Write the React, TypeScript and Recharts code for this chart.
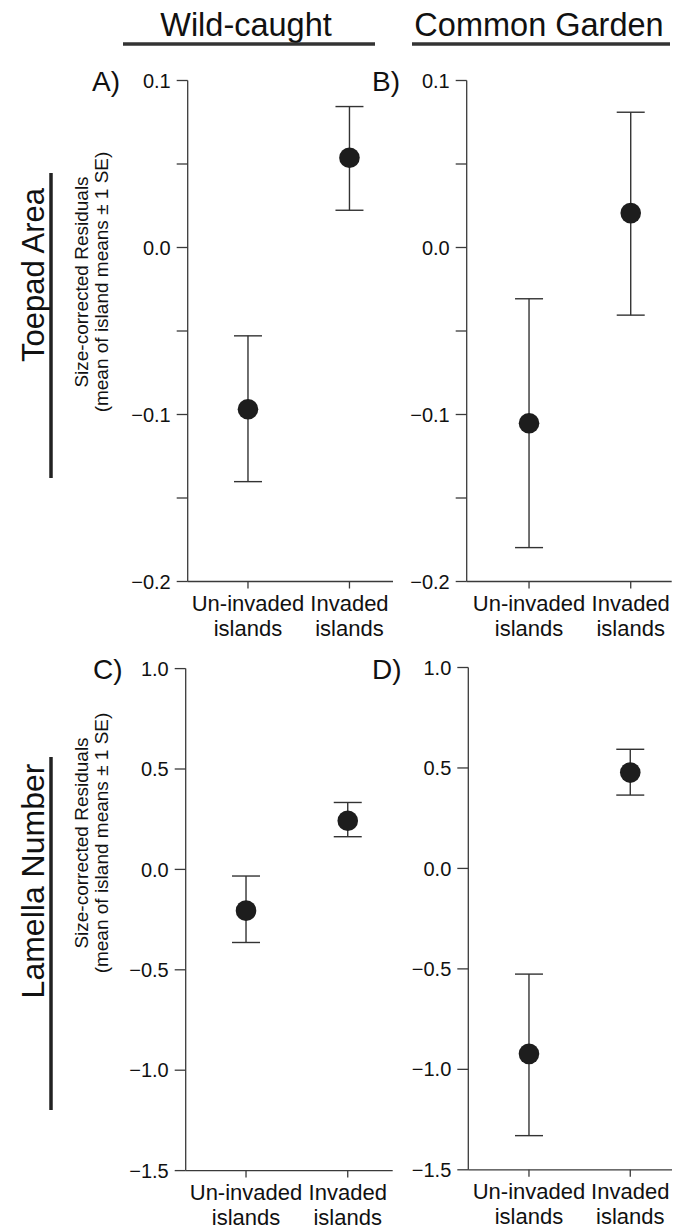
import React from "react";
import { ScatterChart, Scatter, XAxis, YAxis, ErrorBar } from "recharts";

// ---- data ----
const catPositions = [1, 2];
const catLine1 = ["Un-invaded", "Invaded"];
const catLine2 = ["islands", "islands"];

const toepadWildMean = [-0.0969, 0.0537];
const toepadWildLow = [-0.1402, 0.0223];
const toepadWildHigh = [-0.0529, 0.0844];

const toepadGardenMean = [-0.1052, 0.0206];
const toepadGardenLow = [-0.1797, -0.0405];
const toepadGardenHigh = [-0.0307, 0.081];

const lamellaWildMean = [-0.2054, 0.2422];
const lamellaWildLow = [-0.364, 0.1628];
const lamellaWildHigh = [-0.033, 0.3333];

const lamellaGardenMean = [-0.923, 0.477];
const lamellaGardenLow = [-1.33, 0.365];
const lamellaGardenHigh = [-0.526, 0.593];

const toepadTicks = [-0.2, -0.15, -0.1, -0.05, 0, 0.05, 0.1];
const lamellaTicks = [-1.5, -1.0, -0.5, 0, 0.5, 1.0];

const columnTitles = ["Wild-caught", "Common Garden"];
const rowTitles = ["Toepad Area", "Lamella Number"];
const yLabelLine1 = "Size-corrected Residuals";
const yLabelLine2 = "(mean of island means \u00B1 1 SE)";
const panelLetters = ["A)", "B)", "C)", "D)"];

const FONT = "'Liberation Sans', Arial, Helvetica, sans-serif";

function buildRows(mean: number[], low: number[], high: number[]) {
  return catPositions.map((x, i) => ({
    x,
    y: mean[i],
    err: [mean[i] - low[i], high[i] - mean[i]],
  }));
}

function fmtTick(step: number) {
  return (v: number) => {
    const k = v / step;
    if (Math.abs(k - Math.round(k)) > 1e-6) return "";
    const s = Math.abs(v).toFixed(1);
    return v < -1e-9 ? "\u2212" + s : s;
  };
}

const CatTick = (props: any) => {
  const { x, y, payload } = props;
  const i = catPositions.indexOf(payload.value);
  return (
    <g>
      <text x={x} y={y + 20.5} textAnchor="middle" fontSize={22} fontFamily={FONT} fill="#111">
        {catLine1[i]}
      </text>
      <text x={x} y={y + 45.5} textAnchor="middle" fontSize={22} fontFamily={FONT} fill="#111">
        {catLine2[i]}
      </text>
    </g>
  );
};

const Dot = (props: any) => <circle cx={props.cx} cy={props.cy} r={10.3} fill="#1d1d1d" />;

type PanelProps = {
  left: number;
  top: number;
  width: number;
  height: number;
  mTop: number;
  mRight: number;
  yWidth: number;
  xHeight: number;
  xDomain: [number, number];
  yDomain: [number, number];
  ticks: number[];
  labelStep: number;
  rows: any[];
};

function Panel(p: PanelProps) {
  return (
    <div style={{ position: "absolute", left: p.left, top: p.top }}>
      <ScatterChart
        width={p.width}
        height={p.height}
        margin={{ top: p.mTop, right: p.mRight, left: 0, bottom: 0 }}
      >
        <XAxis
          type="number"
          dataKey="x"
          domain={p.xDomain}
          ticks={catPositions}
          interval={0}
          height={p.xHeight}
          tickSize={7}
          tickMargin={2}
          stroke="#3a3a3a"
          strokeWidth={1.3}
          tick={<CatTick />}
          allowDataOverflow
        />
        <YAxis
          type="number"
          dataKey="y"
          domain={p.yDomain}
          ticks={p.ticks}
          interval={0}
          width={p.yWidth}
          tickSize={11}
          tickMargin={6}
          stroke="#3a3a3a"
          strokeWidth={1.3}
          tickFormatter={fmtTick(p.labelStep)}
          tick={{ fontSize: 20, fontFamily: FONT, fill: "#111" }}
          allowDataOverflow
        />
        <Scatter data={p.rows} shape={<Dot />} isAnimationActive={false}>
          <ErrorBar
            dataKey="err"
            direction="y"
            width={14}
            stroke="#333"
            strokeWidth={1.4}
            isAnimationActive={false}
          />
        </Scatter>
      </ScatterChart>
    </div>
  );
}

export default function App() {
  return (
    <div
      style={{
        position: "absolute",
        left: 0,
        top: 0,
        width: 673,
        height: 1230,
        background: "#fff",
        overflow: "hidden",
      }}
    >
      <Panel
        left={0}
        top={0}
        width={400}
        height={640}
        mTop={80.5}
        mRight={7}
        yWidth={187.7}
        xHeight={58.5}
        xDomain={[0.406, 2.429]}
        yDomain={[-0.2, 0.1]}
        ticks={toepadTicks}
        labelStep={0.1}
        rows={buildRows(toepadWildMean, toepadWildLow, toepadWildHigh)}
      />
      <Panel
        left={400}
        top={0}
        width={273}
        height={640}
        mTop={80.5}
        mRight={1.3}
        yWidth={66.7}
        xHeight={58.5}
        xDomain={[0.387, 2.403]}
        yDomain={[-0.2, 0.1]}
        ticks={toepadTicks}
        labelStep={0.1}
        rows={buildRows(toepadGardenMean, toepadGardenLow, toepadGardenHigh)}
      />
      <Panel
        left={0}
        top={620}
        width={400}
        height={610}
        mTop={48.6}
        mRight={7.3}
        yWidth={185.7}
        xHeight={59.4}
        xDomain={[0.407, 2.442]}
        yDomain={[-1.5, 1.0]}
        ticks={lamellaTicks}
        labelStep={0.5}
        rows={buildRows(lamellaWildMean, lamellaWildLow, lamellaWildHigh)}
      />
      <Panel
        left={400}
        top={620}
        width={273}
        height={610}
        mTop={47.5}
        mRight={1}
        yWidth={68.3}
        xHeight={60.2}
        xDomain={[0.401, 2.412]}
        yDomain={[-1.5, 1.0]}
        ticks={lamellaTicks}
        labelStep={0.5}
        rows={buildRows(lamellaGardenMean, lamellaGardenLow, lamellaGardenHigh)}
      />
      <svg
        width={673}
        height={1230}
        style={{ position: "absolute", left: 0, top: 0, pointerEvents: "none" }}
        fontFamily={FONT}
      >
        <text x={246} y={36} textAnchor="middle" fontSize={32.5} fill="#111">
          {columnTitles[0]}
        </text>
        <line x1={123} x2={375} y1={44} y2={44} stroke="#333" strokeWidth={3.5} />
        <text x={539} y={36} textAnchor="middle" fontSize={32.5} fill="#111">
          {columnTitles[1]}
        </text>
        <line x1={412} x2={670} y1={44} y2={44} stroke="#333" strokeWidth={3.5} />

        <text x={92} y={91} fontSize={28} fill="#111">{panelLetters[0]}</text>
        <text x={372} y={91} fontSize={28} fill="#111">{panelLetters[1]}</text>
        <text x={93} y={679} fontSize={28} fill="#111">{panelLetters[2]}</text>
        <text x={372} y={679} fontSize={28} fill="#111">{panelLetters[3]}</text>

        <text transform="translate(44,275) rotate(-90)" textAnchor="middle" fontSize={31} fill="#111">
          {rowTitles[0]}
        </text>
        <line x1={51} x2={51} y1={173} y2={478} stroke="#222" strokeWidth={3.5} />
        <text transform="translate(44,881) rotate(-90)" textAnchor="middle" fontSize={32} fill="#111">
          {rowTitles[1]}
        </text>
        <line x1={51} x2={51} y1={757} y2={1110} stroke="#222" strokeWidth={3.5} />

        <text transform="translate(88,282) rotate(-90)" textAnchor="middle" fontSize={19} fill="#111">
          {yLabelLine1}
        </text>
        <text transform="translate(107.5,282) rotate(-90)" textAnchor="middle" fontSize={19} fill="#111">
          {yLabelLine2}
        </text>
        <text transform="translate(88,843) rotate(-90)" textAnchor="middle" fontSize={19} fill="#111">
          {yLabelLine1}
        </text>
        <text transform="translate(107.5,843) rotate(-90)" textAnchor="middle" fontSize={19} fill="#111">
          {yLabelLine2}
        </text>
      </svg>
    </div>
  );
}
